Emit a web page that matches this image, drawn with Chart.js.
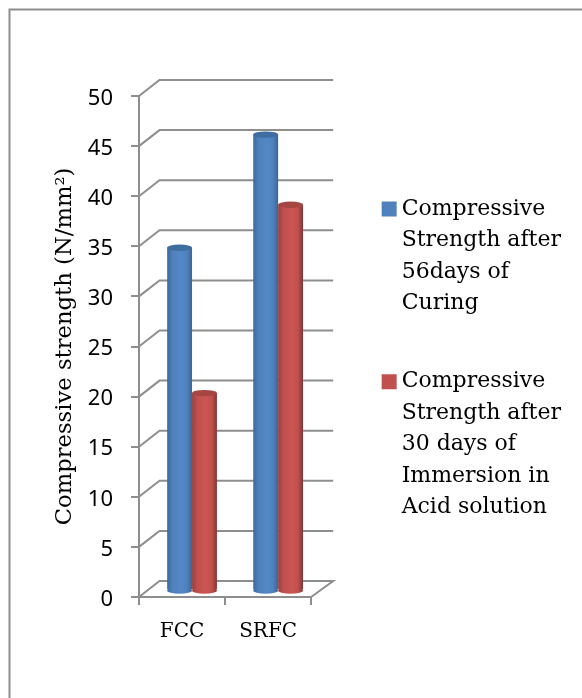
<!DOCTYPE html>
<html>
<head>
<meta charset="utf-8">
<style>html,body{margin:0;padding:0;background:#fff}canvas{display:block}</style>
<script src="https://cdn.jsdelivr.net/npm/chart.js@4"></script>
</head>
<body>
<canvas id="c" width="582" height="698"></canvas>
<script>
const categories = ['FCC', 'SRFC'];
const curing56 = [34.2, 45.5];
const acid30 = [19.7, 38.5];
const curingLabel = ['Compressive', 'Strength after', '56days of', 'Curing'];
const acidLabel = ['Compressive', 'Strength after', '30 days of', 'Immersion in', 'Acid solution'];
const yTitle = 'Compressive strength (N/mm²)';
const yMax = 50;
const yStep = 5;

const DEPTH_X = 20.5, DEPTH_Y = 16;
const BAR_DX = 10, BAR_DY = -6.5;
const CAT_PCT = 0.578, RY = 3.2;
const GRAY = '#8e8e8e';
const SERIF = '"DejaVu Serif"';
const SANS = '"Noto Sans"';
const palette = [
  {base:'#4f81bd', edgeL:'#3d6a9c', mid:'#5288c6', edgeR:'#3b6493', cap:'#3f6d9f'},
  {base:'#c0504d', edgeL:'#9a3f3d', mid:'#cc5653', edgeR:'#843432', cap:'#a64643'}
];

function barGeom(chart, di, ds) {
  const s = chart.scales.x;
  const cw = s.getPixelForValue(1) - s.getPixelForValue(0);
  const bw = cw * CAT_PCT / 2;
  const cx = s.getPixelForValue(di) + (ds === 0 ? -bw / 2 : bw / 2);
  return {cx, bw};
}
function gradFor(chart, di, ds) {
  const {cx, bw} = barGeom(chart, di, ds);
  const p = palette[ds];
  const g = chart.ctx.createLinearGradient(cx - bw / 2, 0, cx + bw / 2, 0);
  g.addColorStop(0, p.edgeL);
  g.addColorStop(0.22, p.base);
  g.addColorStop(0.55, p.mid);
  g.addColorStop(0.8, p.base);
  g.addColorStop(1, p.edgeR);
  return g;
}
function shade(ds) {
  return c => {
    if (c.dataIndex === undefined || !c.chart.chartArea) return palette[ds].base;
    return gradFor(c.chart, c.dataIndex, ds);
  };
}

const scene = {
  id: 'scene',
  afterLayout(chart) {
    chart.legend.bottom = chart.legend.top + 534;
  },
  beforeDraw(chart) {
    const ctx = chart.ctx;
    ctx.save();
    ctx.strokeStyle = GRAY;
    ctx.lineWidth = 2;
    ctx.beginPath();
    ctx.moveTo(582, 9.5); ctx.lineTo(9.5, 9.5); ctx.lineTo(9.5, 698);
    ctx.stroke();
    ctx.restore();
  },
  beforeDatasetsDraw(chart) {
    const ctx = chart.ctx, y = chart.scales.y, a = chart.chartArea;
    ctx.save();
    ctx.strokeStyle = GRAY;
    ctx.lineWidth = 2;
    y.ticks.forEach(t => {
      const py = y.getPixelForValue(t.value);
      ctx.beginPath();
      ctx.moveTo(a.left, py);
      ctx.lineTo(a.left + DEPTH_X, py - DEPTH_Y);
      ctx.lineTo(a.right + DEPTH_X + 1.5, py - DEPTH_Y);
      if (t.value === 0) ctx.lineTo(a.right, py);
      ctx.stroke();
    });
    ctx.restore();
    ctx.save();
    ctx.translate(BAR_DX, BAR_DY);
    const y0 = y.getPixelForValue(0);
    [1, 0].forEach(ds => categories.forEach((_, di) => {
      const {cx, bw} = barGeom(chart, di, ds);
      ctx.fillStyle = gradFor(chart, di, ds);
      ctx.beginPath();
      ctx.ellipse(cx, y0, bw / 2, RY, 0, 0, Math.PI * 2);
      ctx.fill();
    }));
  },
  afterDatasetDraw(chart, args) {
    const ctx = chart.ctx, ds = args.index;
    args.meta.data.forEach(el => {
      ctx.fillStyle = palette[ds].cap;
      ctx.beginPath();
      ctx.ellipse(el.x, el.y, el.width / 2, RY, 0, 0, Math.PI * 2);
      ctx.fill();
    });
  },
  afterDatasetsDraw(chart) {
    chart.ctx.restore();
  }
};

new Chart(document.getElementById('c'), {
  type: 'bar',
  data: {
    labels: categories,
    datasets: [
      {label: curingLabel, data: curing56, backgroundColor: shade(0), categoryPercentage: CAT_PCT, barPercentage: 1, borderWidth: 0},
      {label: acidLabel, data: acid30, backgroundColor: shade(1), categoryPercentage: CAT_PCT, barPercentage: 1, borderWidth: 0}
    ]
  },
  plugins: [scene],
  options: {
    responsive: false,
    animation: false,
    devicePixelRatio: 1,
    layout: {padding: {left: 51, top: 96, right: 11, bottom: 20}},
    scales: {
      x: {
        afterFit: s => { s.height = 81; },
        grid: {drawOnChartArea: false, color: GRAY, lineWidth: 2, tickLength: 8},
        border: {color: GRAY, width: 2},
        ticks: {color: '#000', padding: 15, font: {family: SERIF, size: 20}, maxRotation: 0}
      },
      y: {
        min: 0, max: yMax,
        afterFit: s => { s.width = 88; },
        grid: {drawOnChartArea: false, color: GRAY, lineWidth: 2, tickLength: 8},
        border: {color: GRAY, width: 2},
        ticks: {stepSize: yStep, color: '#000', padding: 18, labelOffset: 2.5, autoSkip: false, font: {family: SANS, size: 22}},
        title: {display: true, text: yTitle, color: '#000', padding: 0, font: {family: SERIF, size: 22.7}}
      },
      gap: {
        type: 'linear', position: 'right', display: true,
        afterFit: s => { s.width = 29.5; },
        grid: {display: false}, border: {display: false}, ticks: {display: false}
      }
    },
    plugins: {
      tooltip: {enabled: false},
      legend: {
        position: 'right',
        maxWidth: 240,
        labels: {
          usePointStyle: true, boxWidth: 3, boxHeight: 15, padding: 47, color: '#000',
          font: {family: SERIF, size: 22, lineHeight: 1.43},
          generateLabels: ch => ch.data.datasets.map((d, i) => ({
            text: d.label, datasetIndex: i, pointStyle: 'rect',
            fillStyle: palette[i].base, strokeStyle: palette[i].base, lineWidth: 0, fontColor: '#000'
          }))
        }
      }
    }
  }
});
</script>
</body>
</html>
